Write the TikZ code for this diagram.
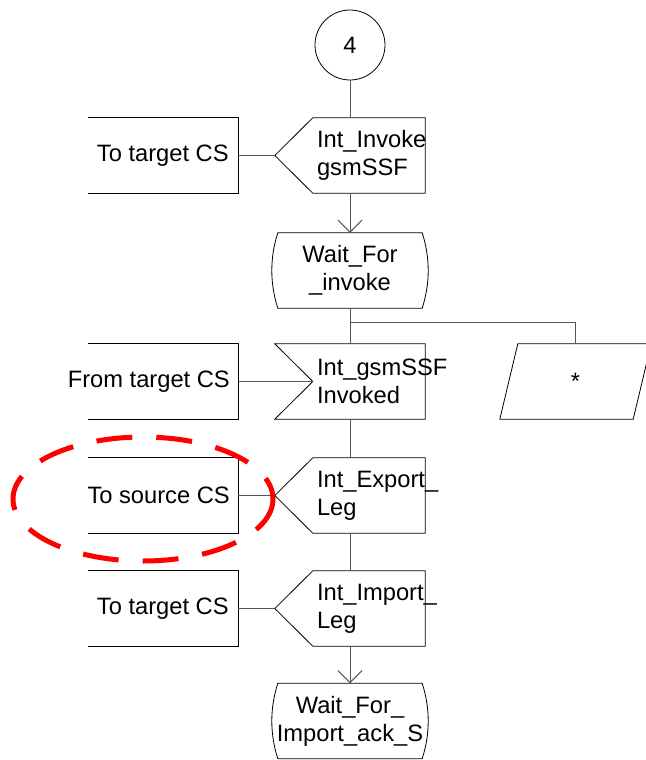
\documentclass[tikz,border=0pt]{standalone}
\usepackage{fontspec}
\setmainfont{Liberation Sans}
\usepackage{tikz}
\usetikzlibrary{arrows.meta}
\definecolor{flowgray}{HTML}{555555}
\definecolor{markred}{HTML}{FF0000}

\tikzset{
  sdl/.style={font=\fontsize{23.7pt}{28pt}\selectfont, minimum height=75pt, inner sep=0pt},
  sigbox/.style={sdl, minimum width=112pt, text width=104pt, align=left},
  cmtbox/.style={sdl, anchor=east, minimum width=150pt, inner xsep=8pt},
  statebox/.style={sdl, minimum width=144pt, text width=136pt, align=center},
  outline/.style={black, line width=0.8pt},
  flow/.style={flowgray, line width=1pt},
}

\begin{document}
\begin{tikzpicture}[x=1pt,y=-1pt]
  \useasboundingbox (0,0) rectangle (645,760);
  % connector and main column
  \node[sdl, draw, outline, circle, minimum size=70pt] (c4) at (350,45) {4};
  \node[sigbox] (invoke) at (369,155.5) {Int\_Invoke\\gsmSSF};
  \node[statebox] (waitinv) at (350,270.5) {Wait\_For\\\_invoke};
  \node[sigbox] (invoked) at (369,381.5) {Int\_gsmSSF\\Invoked};
  \node[sdl, minimum width=133pt] (any) at (575.5,381.5) {*};
  \node[sigbox] (export) at (369,495.5) {Int\_Export\_\\Leg};
  \node[sigbox] (import) at (369,608.5) {Int\_Import\_\\Leg};
  \node[statebox] (waitack) at (350,721) {Wait\_For\_\\\makebox[136pt]{Import\_ack\_S}};

  % comments
  \node[cmtbox] (totarget1) at (238,155.5) {To target CS};
  \node[cmtbox] (fromtarget) at (238,381.5) {From target CS};
  \node[cmtbox] (tosource) at (238,495.5) {To source CS};
  \node[cmtbox] (totarget2) at (238,608.5) {To target CS};
  \foreach \c in {totarget1,fromtarget,tosource,totarget2}
    \draw[outline] (\c.north east) ++(-150,0) -- (\c.north east) -- (\c.south east) -- ++(-150,0);

  % symbol outlines
  \foreach \s in {invoke,export,import}
    \draw[outline] (\s.north west) -- (\s.north east) -- (\s.south east) -- (\s.south west)
      -- ([xshift=-38pt]\s.west) -- cycle;
  \draw[outline] ([xshift=-38pt]invoked.north west) -- (invoked.north east) -- (invoked.south east)
    -- ([xshift=-38pt]invoked.south west) -- (invoked.west) -- cycle;
  \foreach \s in {waitinv,waitack}
    \draw[outline] (\s.north west) -- (\s.north east) .. controls +(8,25) and +(8,-25) .. (\s.south east)
      -- (\s.south west) .. controls +(-8,-25) and +(-8,25) .. (\s.north west) -- cycle;
  \draw[outline] ([xshift=-9pt]any.south west) -- ([xshift=9pt]any.north west)
    -- ([xshift=9pt]any.north east) -- ([xshift=-9pt]any.south east) -- cycle;

  % flow lines
  \draw[flow] (c4) -- (c4 |- invoke.north);
  \draw[flow,-{Straight Barb[length=12pt,width=24pt]}] (waitinv |- invoke.south) -- (waitinv.north);
  \draw[flow] (waitinv.south) -- (waitinv |- invoked.north);
  \coordinate (split) at (350,322);
  \draw[flow] (split) -| (any.north);
  \draw[flow] (waitinv |- invoked.south) -- (waitinv |- export.north);
  \draw[flow] (waitinv |- export.south) -- (waitinv |- import.north);
  \draw[flow,-{Straight Barb[length=12pt,width=24pt]}] (waitinv |- import.south) -- (waitack.north);

  \draw[flow] (totarget1.east) -- ([xshift=-38pt]invoke.west);
  \draw[flow] (fromtarget.east) -- (invoked.west);
  \draw[flow] (tosource.east) -- ([xshift=-38pt]export.west);
  \draw[flow] (totarget2.east) -- ([xshift=-38pt]import.west);

  % highlight
  \draw[markred, line width=5pt, dash pattern=on 36pt off 24pt] (143,499) ellipse [x radius=130, y radius=62];
\end{tikzpicture}
\end{document}
